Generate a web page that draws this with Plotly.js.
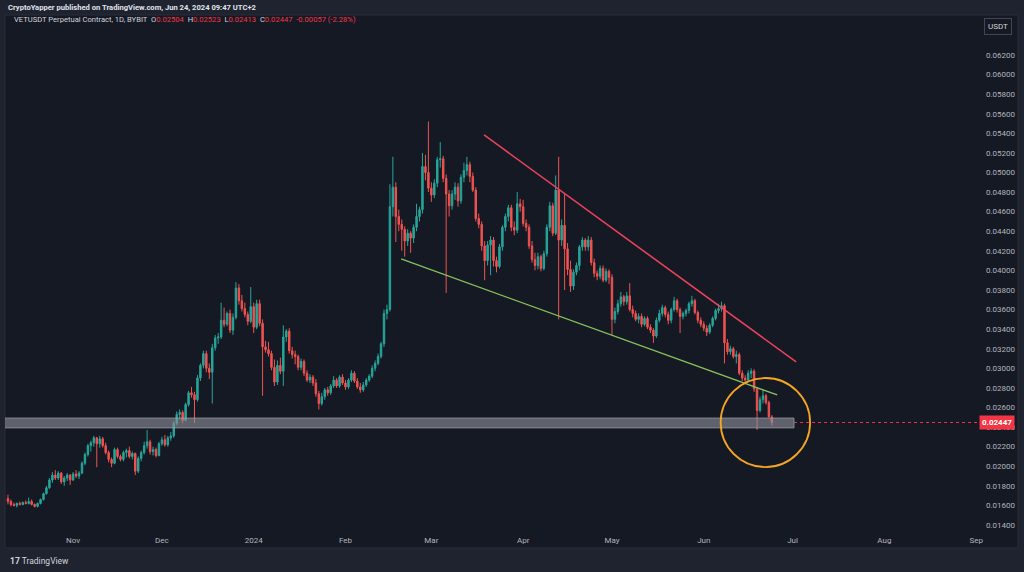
<!DOCTYPE html>
<html>
<head>
<meta charset="utf-8">
<script src="https://cdn.plot.ly/plotly-3.0.1.min.js"></script>
<style>
html,body{margin:0;padding:0;background:#1f2330;}
#chart{width:1024px;height:572px;}
</style>
</head>
<body>
<div id="chart"></div>
<script>
// Daily candles, VETUSDT, starting 2023-10-10 (one per day)
const startDate = '2023-10-10';

const openVals = [
0.0167,0.0164,0.0161,0.0160,0.0162,0.0161,0.0163,0.0162,0.0164,0.0161,
0.0159,0.0162,0.0166,0.0172,0.0178,0.0186,0.0191,0.0188,0.0193,0.0184,
0.0188,0.0191,0.0186,0.0192,0.0190,0.0193,0.0203,0.0212,0.0221,0.0224,
0.0229,0.0223,0.0228,0.0221,0.0214,0.0207,0.0203,0.0217,0.0210,0.0207,
0.0214,0.0216,0.0210,0.0213,0.0195,0.0208,0.0214,0.0221,0.0225,0.0215,
0.0217,0.0211,0.0223,0.0227,0.0222,0.0229,0.0231,0.0244,0.0253,0.0255,
0.0247,0.0263,0.0275,0.0273,0.0268,0.0290,0.0303,0.0315,0.0300,0.0296,
0.0321,0.0331,0.0332,0.0349,0.0345,0.0356,0.0339,0.0352,0.0382,0.0369,
0.0361,0.0355,0.0348,0.0363,0.0342,0.0366,0.0346,0.0322,0.0319,0.0315,
0.0301,0.0286,0.0303,0.0297,0.0332,0.0338,0.0318,0.0314,0.0312,0.0301,
0.0307,0.0295,0.0288,0.0291,0.0285,0.0274,0.0264,0.0271,0.0278,0.0275,
0.0282,0.0288,0.0282,0.0291,0.0285,0.0281,0.0288,0.0295,0.0287,0.0281,
0.0278,0.0283,0.0288,0.0292,0.0300,0.0305,0.0312,0.0325,0.0356,0.0360,
0.0465,0.0485,0.0455,0.0447,0.0442,0.0430,0.0438,0.0433,0.0444,0.0455,
0.0462,0.0506,0.0500,0.0484,0.0477,0.0489,0.0513,0.0514,0.0494,0.0478,
0.0466,0.0478,0.0485,0.0471,0.0495,0.0502,0.0508,0.0496,0.0482,0.0453,
0.0447,0.0425,0.0410,0.0426,0.0431,0.0410,0.0404,0.0424,0.0444,0.0455,
0.0464,0.0444,0.0441,0.0468,0.0465,0.0448,0.0444,0.0425,0.0411,0.0405,
0.0414,0.0402,0.0417,0.0444,0.0466,0.0438,0.0482,0.0431,0.0446,0.0422,
0.0401,0.0384,0.0398,0.0405,0.0424,0.0431,0.0424,0.0431,0.0408,0.0397,
0.0394,0.0402,0.0390,0.0399,0.0393,0.0350,0.0358,0.0366,0.0373,0.0368,
0.0374,0.0360,0.0356,0.0350,0.0353,0.0345,0.0351,0.0342,0.0339,0.0333,
0.0349,0.0356,0.0362,0.0355,0.0349,0.0360,0.0369,0.0360,0.0353,0.0356,
0.0359,0.0366,0.0369,0.0357,0.0349,0.0345,0.0341,0.0337,0.0344,0.0351,
0.0359,0.0361,0.0364,0.0326,0.0317,0.0320,0.0312,0.0314,0.0295,0.0290,
0.0288,0.0295,0.0297,0.0279,0.0257,0.0268,0.0272,0.0265,0.02504
];

const highVals = [
0.0171,0.0166,0.0163,0.0163,0.0164,0.0164,0.0165,0.0168,0.0166,0.0162,
0.0163,0.0167,0.0173,0.0180,0.0188,0.0194,0.0196,0.0195,0.0194,0.0190,
0.0193,0.0192,0.0194,0.0196,0.0195,0.0205,0.0214,0.0223,0.0226,0.0231,
0.0230,0.0231,0.0230,0.0224,0.0216,0.0209,0.0219,0.0219,0.0212,0.0216,
0.0218,0.0220,0.0215,0.0214,0.0210,0.0216,0.0225,0.0237,0.0227,0.0220,
0.0219,0.0225,0.0230,0.0232,0.0231,0.0235,0.0246,0.0256,0.0258,0.0257,
0.0265,0.0277,0.0281,0.0276,0.0293,0.0305,0.0318,0.0318,0.0305,0.0325,
0.0334,0.0336,0.0367,0.0362,0.0358,0.0360,0.0356,0.0388,0.0386,0.0375,
0.0367,0.0358,0.0383,0.0367,0.0370,0.0370,0.0350,0.0328,0.0327,0.0318,
0.0309,0.0308,0.0311,0.0344,0.0340,0.0341,0.0322,0.0318,0.0314,0.0310,
0.0309,0.0298,0.0294,0.0293,0.0289,0.0277,0.0275,0.0280,0.0281,0.0284,
0.0292,0.0290,0.0293,0.0294,0.0288,0.0290,0.0298,0.0297,0.0290,0.0285,
0.0286,0.0290,0.0294,0.0303,0.0308,0.0315,0.0327,0.0360,0.0365,0.0488,
0.0516,0.0490,0.0462,0.0452,0.0445,0.0442,0.0440,0.0447,0.0468,0.0465,
0.0520,0.0518,0.0552,0.0490,0.0493,0.0516,0.0531,0.0517,0.0498,0.0482,
0.0482,0.0490,0.0489,0.0498,0.0510,0.0516,0.0511,0.0500,0.0485,0.0458,
0.0450,0.0430,0.0430,0.0435,0.0434,0.0414,0.0427,0.0446,0.0458,0.0467,
0.0467,0.0450,0.0480,0.0473,0.0472,0.0452,0.0447,0.0430,0.0418,0.0418,
0.0416,0.0420,0.0447,0.0470,0.0469,0.0497,0.0516,0.0452,0.0478,0.0428,
0.0410,0.0401,0.0408,0.0426,0.0434,0.0433,0.0435,0.0434,0.0412,0.0400,
0.0405,0.0405,0.0402,0.0401,0.0396,0.0362,0.0370,0.0378,0.0375,0.0378,
0.0387,0.0364,0.0359,0.0356,0.0356,0.0353,0.0353,0.0345,0.0341,0.0352,
0.0360,0.0365,0.0364,0.0358,0.0362,0.0373,0.0371,0.0362,0.0358,0.0361,
0.0368,0.0374,0.0371,0.0359,0.0352,0.0348,0.0344,0.0346,0.0353,0.0361,
0.0366,0.0368,0.0366,0.0330,0.0323,0.0322,0.0318,0.0316,0.0298,0.0293,
0.0298,0.0300,0.0299,0.0281,0.0271,0.0278,0.0274,0.0267,0.02523
];

const lowVals = [
0.0161,0.0159,0.0159,0.0158,0.0160,0.0160,0.0161,0.0161,0.0160,0.0158,
0.0158,0.0161,0.0165,0.0171,0.0177,0.0183,0.0186,0.0186,0.0182,0.0180,
0.0185,0.0181,0.0185,0.0188,0.0187,0.0192,0.0201,0.0210,0.0215,0.0220,
0.0199,0.0219,0.0219,0.0212,0.0204,0.0199,0.0202,0.0208,0.0205,0.0205,
0.0209,0.0208,0.0207,0.0191,0.0193,0.0205,0.0212,0.0218,0.0212,0.0211,
0.0209,0.0210,0.0221,0.0220,0.0220,0.0226,0.0229,0.0242,0.0248,0.0244,
0.0246,0.0261,0.0270,0.0244,0.0266,0.0287,0.0300,0.0296,0.0289,0.0264,
0.0318,0.0325,0.0330,0.0342,0.0343,0.0336,0.0334,0.0350,0.0365,0.0358,
0.0352,0.0344,0.0346,0.0336,0.0340,0.0343,0.0272,0.0316,0.0312,0.0298,
0.0282,0.0283,0.0294,0.0282,0.0327,0.0315,0.0310,0.0304,0.0298,0.0298,
0.0292,0.0286,0.0285,0.0282,0.0271,0.0258,0.0262,0.0268,0.0272,0.0273,
0.0280,0.0280,0.0280,0.0283,0.0278,0.0279,0.0286,0.0285,0.0279,0.0275,
0.0276,0.0281,0.0286,0.0290,0.0297,0.0303,0.0310,0.0322,0.0350,0.0358,
0.0455,0.0429,0.0440,0.0420,0.0414,0.0425,0.0418,0.0428,0.0440,0.0450,
0.0458,0.0492,0.0480,0.0470,0.0474,0.0485,0.0505,0.0490,0.0377,0.0455,
0.0462,0.0472,0.0465,0.0468,0.0490,0.0497,0.0490,0.0480,0.0450,0.0443,
0.0420,0.0390,0.0405,0.0395,0.0404,0.0398,0.0402,0.0420,0.0440,0.0450,
0.0440,0.0436,0.0438,0.0460,0.0445,0.0440,0.0422,0.0408,0.0400,0.0401,
0.0399,0.0400,0.0414,0.0440,0.0435,0.0436,0.0350,0.0425,0.0380,0.0395,
0.0378,0.0380,0.0395,0.0400,0.0420,0.0420,0.0420,0.0405,0.0393,0.0390,
0.0391,0.0388,0.0388,0.0386,0.0334,0.0346,0.0355,0.0363,0.0364,0.0365,
0.0358,0.0352,0.0348,0.0346,0.0342,0.0343,0.0340,0.0336,0.0326,0.0331,
0.0347,0.0353,0.0352,0.0345,0.0346,0.0358,0.0357,0.0336,0.0350,0.0353,
0.0356,0.0363,0.0355,0.0346,0.0342,0.0338,0.0333,0.0335,0.0342,0.0349,
0.0356,0.0358,0.0305,0.0314,0.0314,0.0310,0.0305,0.0293,0.0287,0.0285,
0.0286,0.0290,0.0276,0.0237,0.0255,0.0264,0.0263,0.0250,0.02413
];

const closeVals = [
0.0164,0.0161,0.0160,0.0162,0.0161,0.0163,0.0162,0.0164,0.0161,0.0159,
0.0162,0.0166,0.0172,0.0178,0.0186,0.0191,0.0188,0.0193,0.0184,0.0188,
0.0191,0.0186,0.0192,0.0190,0.0193,0.0203,0.0212,0.0221,0.0224,0.0229,
0.0223,0.0228,0.0221,0.0214,0.0207,0.0203,0.0217,0.0210,0.0207,0.0214,
0.0216,0.0210,0.0213,0.0195,0.0208,0.0214,0.0221,0.0225,0.0215,0.0217,
0.0211,0.0223,0.0227,0.0222,0.0229,0.0231,0.0244,0.0253,0.0255,0.0247,
0.0263,0.0275,0.0273,0.0268,0.0290,0.0303,0.0315,0.0300,0.0296,0.0321,
0.0331,0.0332,0.0349,0.0345,0.0356,0.0339,0.0352,0.0382,0.0369,0.0361,
0.0355,0.0348,0.0363,0.0342,0.0366,0.0346,0.0322,0.0319,0.0315,0.0301,
0.0286,0.0303,0.0297,0.0332,0.0338,0.0318,0.0314,0.0312,0.0301,0.0307,
0.0295,0.0288,0.0291,0.0285,0.0274,0.0264,0.0271,0.0278,0.0275,0.0282,
0.0288,0.0282,0.0291,0.0285,0.0281,0.0288,0.0295,0.0287,0.0281,0.0278,
0.0283,0.0288,0.0292,0.0300,0.0305,0.0312,0.0325,0.0356,0.0360,0.0465,
0.0485,0.0455,0.0447,0.0442,0.0430,0.0438,0.0433,0.0444,0.0455,0.0462,
0.0506,0.0500,0.0484,0.0477,0.0489,0.0513,0.0514,0.0494,0.0478,0.0466,
0.0478,0.0485,0.0471,0.0495,0.0502,0.0508,0.0496,0.0482,0.0453,0.0447,
0.0425,0.0410,0.0426,0.0431,0.0410,0.0404,0.0424,0.0444,0.0455,0.0464,
0.0444,0.0441,0.0468,0.0465,0.0448,0.0444,0.0425,0.0411,0.0405,0.0414,
0.0402,0.0417,0.0444,0.0466,0.0438,0.0482,0.0431,0.0446,0.0422,0.0401,
0.0384,0.0398,0.0405,0.0424,0.0431,0.0424,0.0431,0.0408,0.0397,0.0394,
0.0402,0.0390,0.0399,0.0393,0.0350,0.0358,0.0366,0.0373,0.0368,0.0374,
0.0360,0.0356,0.0350,0.0353,0.0345,0.0351,0.0342,0.0339,0.0333,0.0349,
0.0356,0.0362,0.0355,0.0349,0.0360,0.0369,0.0360,0.0353,0.0356,0.0359,
0.0366,0.0369,0.0357,0.0349,0.0345,0.0341,0.0337,0.0344,0.0351,0.0359,
0.0361,0.0364,0.0326,0.0317,0.0320,0.0312,0.0314,0.0295,0.0290,0.0288,
0.0295,0.0297,0.0279,0.0257,0.0268,0.0272,0.0265,0.02504,0.02447
];

const tickDates = ['2023-11-01','2023-12-01','2024-01-01','2024-02-01','2024-03-01','2024-04-01','2024-05-01','2024-06-01','2024-07-01','2024-08-01','2024-09-01'];
const tickLabels = ['Nov','Dec','2024','Feb','Mar','Apr','May','Jun','Jul','Aug','Sep'];
const priceTicks = [0.014,0.016,0.018,0.020,0.022,0.024,0.026,0.028,0.030,0.032,0.034,0.036,0.038,0.040,0.042,0.044,0.046,0.048,0.050,0.052,0.054,0.056,0.058,0.060,0.062];
const lastPrice = 0.02447;

// drawing annotations (trend lines, zone, circle)
const resistanceLine = {x0:'2024-03-18 19:00', y0:0.05383, x1:'2024-07-02 05:00', y1:0.03065};
const supportLine = {x0:'2024-02-19 19:00', y0:0.04117, x1:'2024-06-25 19:00', y1:0.02728};
const supportZone = {x0:'2023-10-08', x1:'2024-07-01 12:00', y0:0.02391, y1:0.02493};
const circleZone = {x0:'2024-06-06 17:00', x1:'2024-07-06 22:00', y0:0.01992, y1:0.02901};

// build dates
const dates = [];
const base = new Date(startDate + 'T00:00:00Z');
for (let i = 0; i < closeVals.length; i++) {
  const d = new Date(base.getTime() + i * 86400000);
  dates.push(d.toISOString().slice(0,10));
}

const UP = '#26a69a', DOWN = '#ef5350';
const FONT = 'Roboto, "Noto Sans", "DejaVu Sans", sans-serif';

const trace = {
  type: 'candlestick',
  x: dates, open: openVals, high: highVals, low: lowVals, close: closeVals,
  increasing: {line: {color: UP, width: 1}, fillcolor: UP},
  decreasing: {line: {color: DOWN, width: 1}, fillcolor: DOWN},
  whiskerwidth: 0,
  hoverinfo: 'none',
  showlegend: false
};

const layout = {
  width: 1024, height: 572,
  margin: {l: 5, r: 46, t: 15, b: 42, pad: 0},
  paper_bgcolor: '#1f2330',
  plot_bgcolor: '#151924',
  font: {family: FONT, color: '#b2b5be', size: 8},
  showlegend: false,
  dragmode: false,
  xaxis: {
    type: 'date',
    range: ['2023-10-09', '2024-09-01 15:00'],
    tickmode: 'array', tickvals: tickDates, ticktext: tickLabels,
    showgrid: false, zeroline: false, showline: false, ticks: '',
    ticklabelstandoff: 4,
    tickfont: {size: 8, color: '#b2b5be'},
    rangeslider: {visible: false},
    fixedrange: true
  },
  yaxis: {
    side: 'right',
    range: [0.01349, 0.06608],
    tickmode: 'array', tickvals: priceTicks,
    tickformat: '.5f',
    showgrid: false, zeroline: false, showline: false, ticks: '',
    ticklabelstandoff: 7,
    tickfont: {size: 8, color: '#b2b5be'},
    fixedrange: true
  },
  shapes: [
    // chart pane background and frame
    {type:'rect', xref:'paper', yref:'paper', x0:0, x1:1.0411, y0:-0.035, y1:1.0,
     fillcolor:'#151924', line:{color:'#2a2e39', width:1}, layer:'below'},
    // last price dotted line (hidden under the zone, visible to the right of it)
    {type:'line', xref:'x', yref:'y', x0:supportZone.x1, x1:'2024-09-02', y0:lastPrice, y1:lastPrice,
     line:{color:'#f23645', width:1, dash:'dot'}},
    // support zone band
    {type:'rect', xref:'x', yref:'y', x0:supportZone.x0, x1:supportZone.x1, y0:supportZone.y0, y1:supportZone.y1,
     fillcolor:'rgba(140,143,153,0.62)', line:{color:'rgba(170,172,180,0.6)', width:1}, layer:'above'},
    // resistance
    {type:'line', xref:'x', yref:'y', x0:resistanceLine.x0, y0:resistanceLine.y0, x1:resistanceLine.x1, y1:resistanceLine.y1,
     line:{color:'#e8435a', width:1.6}},
    // support
    {type:'line', xref:'x', yref:'y', x0:supportLine.x0, y0:supportLine.y0, x1:supportLine.x1, y1:supportLine.y1,
     line:{color:'#86c15a', width:1.3}},
    // circle
    {type:'circle', xref:'x', yref:'y', x0:circleZone.x0, x1:circleZone.x1, y0:circleZone.y0, y1:circleZone.y1,
     line:{color:'#f5a524', width:1.8}, fillcolor:'rgba(0,0,0,0)'}
  ],
  annotations: [
    {xref:'paper', yref:'paper', x:0.001, y:1.0136, xanchor:'left', yanchor:'middle', showarrow:false,
     text:'<b>CryptoYapper published on TradingView.com, Jun 24, 2024 09:47 UTC+2</b>',
     font:{family:FONT, size:7.6, color:'#e0e3eb'}},
    {xref:'paper', yref:'paper', x:0.0072, y:0.9922, xanchor:'left', yanchor:'middle', showarrow:false,
     text:'VETUSDT Perpetual Contract, 1D, BYBIT  O<span style="color:#f23645">0.02504</span>  H<span style="color:#f23645">0.02523</span>  L<span style="color:#f23645">0.02413</span>  C<span style="color:#f23645">0.02447</span>  <span style="color:#f23645">-0.00057 (-2.28%)</span>',
     font:{family:FONT, size:7.6, color:'#d1d4dc'}},
    {xref:'paper', yref:'paper', x:1.0206, y:0.9767, xanchor:'center', yanchor:'middle', showarrow:false,
     text:'USDT', font:{family:FONT, size:8, color:'#d1d4dc'},
     bgcolor:'#151924', bordercolor:'#434651', borderwidth:1, borderpad:3},
    {xref:'paper', yref:'y', x:1.0015, y:lastPrice, xanchor:'left', yanchor:'middle', showarrow:false,
     text:'<b>0.02447</b>', font:{family:FONT, size:8, color:'#ffffff'},
     bgcolor:'#f23645', borderpad:2},
    {xref:'paper', yref:'paper', x:0.003, y:-0.061, xanchor:'left', yanchor:'middle', showarrow:false,
     text:'<b>17</b> TradingView', font:{family:FONT, size:8.5, color:'#d1d4dc'}}
  ]
};

Plotly.newPlot('chart', [trace], layout, {staticPlot: true, displayModeBar: false});
</script>
</body>
</html>
